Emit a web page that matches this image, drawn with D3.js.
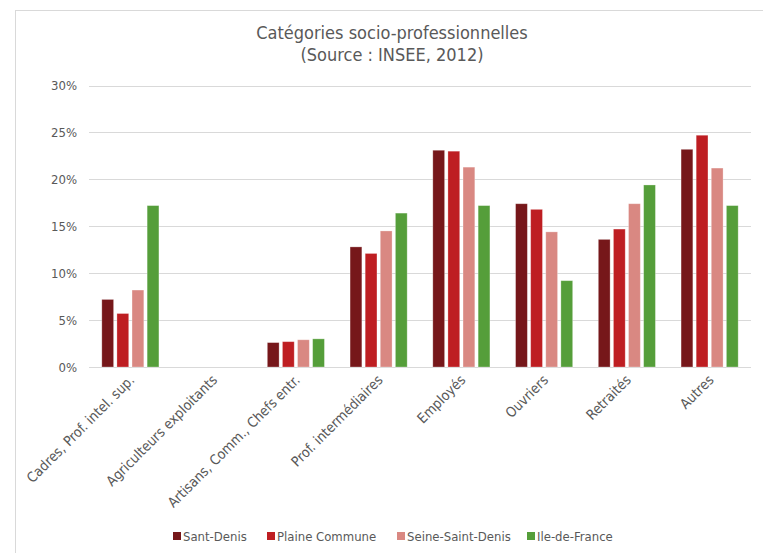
<!DOCTYPE html>
<html>
<head>
<meta charset="utf-8">
<script src="https://cdn.jsdelivr.net/npm/d3@7"></script>
<style>
  body { margin: 0; background: #fff; }
  svg { font-family: "DejaVu Sans", sans-serif; font-stretch: condensed; }
</style>
</head>
<body>
<div id="chart"></div>
<script>
const categories = [
  "Cadres, Prof. intel. sup.",
  "Agriculteurs exploitants",
  "Artisans, Comm., Chefs entr.",
  "Prof. intermédiaires",
  "Employés",
  "Ouvriers",
  "Retraités",
  "Autres",
];
const seriesNames = ["Sant-Denis", "Plaine Commune", "Seine-Saint-Denis", "Ile-de-France"];
const santDenis = [7.2, 0, 2.6, 12.8, 23.1, 17.4, 13.6, 23.2];
const plaineCommune = [5.7, 0, 2.7, 12.1, 23.0, 16.8, 14.7, 24.7];
const seineSaintDenis = [8.2, 0, 2.9, 14.5, 21.3, 14.4, 17.4, 21.2];
const ileDeFrance = [17.2, 0, 3.0, 16.4, 17.2, 9.2, 19.4, 17.2];
const yTicks = [0, 5, 10, 15, 20, 25, 30];
const colors = ["#76171a", "#be1e22", "#d98882", "#559e3a"];

const width = 763, height = 553;
const margin = { top: 85.5, right: 12, bottom: 186, left: 89 };

const seriesValues = [santDenis, plaineCommune, seineSaintDenis, ileDeFrance];
const rows = categories.map((c, i) => ({
  cat: c,
  values: seriesNames.map((s, j) => ({ key: s, value: seriesValues[j][i], idx: j })),
}));

const svg = d3.select("#chart").append("svg")
  .attr("width", width).attr("height", height);

// outer frame
svg.append("rect")
  .attr("x", 15.5).attr("y", 10.5)
  .attr("width", width + 20).attr("height", height + 20)
  .attr("fill", "none").attr("stroke", "#d9d9d9");

const x = d3.scaleBand()
  .domain(categories)
  .range([margin.left, width - margin.right])
  .paddingInner(0.31)
  .paddingOuter(0.155);

const xSub = d3.scaleBand()
  .domain(seriesNames)
  .range([0, x.bandwidth()])
  .paddingInner(0.22);

const y = d3.scaleLinear()
  .domain([0, 30])
  .range([height - margin.bottom, margin.top]);

// gridlines + y labels
const gY = svg.append("g");
gY.selectAll("line").data(yTicks).join("line")
  .attr("x1", margin.left).attr("x2", width - margin.right)
  .attr("y1", d => Math.round(y(d)) + 0.5).attr("y2", d => Math.round(y(d)) + 0.5)
  .attr("stroke", "#d9d9d9").attr("stroke-width", 1.2);
gY.selectAll("text").data(yTicks).join("text")
  .attr("x", margin.left - 12)
  .attr("y", d => y(d))
  .attr("dy", "0.35em")
  .attr("text-anchor", "end")
  .attr("fill", "#595959")
  .attr("font-size", 13)
  .text(d => d + "%");

// bars
svg.append("g").selectAll("g").data(rows).join("g")
  .attr("transform", d => `translate(${x(d.cat)},0)`)
  .selectAll("rect").data(d => d.values).join("rect")
  .attr("x", d => xSub(d.key))
  .attr("y", d => y(d.value))
  .attr("width", xSub.bandwidth())
  .attr("height", d => y(0) - y(d.value))
  .attr("fill", d => colors[d.idx])
  .attr("stroke", "#ffffff")
  .attr("stroke-opacity", 0.35)
  .attr("stroke-width", 0.8);

// x labels
svg.append("g").selectAll("text").data(categories).join("text")
  .attr("transform", d => `translate(${x(d) + x.bandwidth() / 2 - 2},${y(0) + 7}) rotate(-45)`)
  .attr("text-anchor", "end")
  .attr("dy", "0.7em")
  .attr("fill", "#595959")
  .attr("font-size", 14)
  .text(d => d);

// title
const title = svg.append("text")
  .attr("x", 392).attr("y", 39)
  .attr("text-anchor", "middle")
  .attr("fill", "#595959")
  .attr("font-size", 18);
title.append("tspan").attr("x", 392).text("Catégories socio-professionnelles");
title.append("tspan").attr("x", 392).attr("dy", 22).text("(Source : INSEE, 2012)");

// legend
const legendX = [173, 267, 397, 527];
const legend = svg.append("g").selectAll("g").data(seriesNames).join("g")
  .attr("transform", (d, i) => `translate(${legendX[i]},536)`);
legend.append("rect")
  .attr("x", 0).attr("y", -4)
  .attr("width", 8).attr("height", 8)
  .attr("fill", (d, i) => colors[i]);
legend.append("text")
  .attr("x", 10).attr("dy", "0.35em")
  .attr("fill", "#595959")
  .attr("font-size", 13)
  .text(d => d);
</script>
</body>
</html>
